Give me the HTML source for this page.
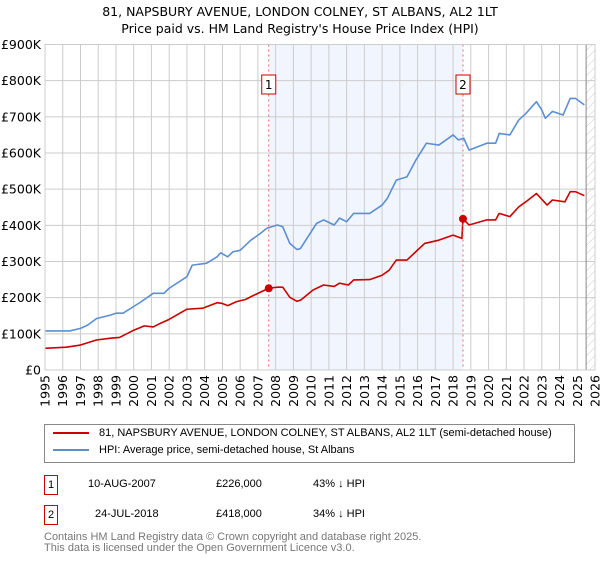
<!DOCTYPE html>
<html><head><meta charset="utf-8"><style>
body{margin:0;background:#fff;font-family:"Liberation Sans","DejaVu Sans",sans-serif;}
svg text{font-family:"DejaVu Sans","Liberation Sans",sans-serif;}
.t{position:absolute;white-space:nowrap;}
</style></head><body>
<svg id="c" width="600" height="560" xmlns="http://www.w3.org/2000/svg">
<defs><pattern id="hatch" width="6" height="6" patternUnits="userSpaceOnUse" patternTransform="rotate(45)"><line x1="0" y1="0" x2="0" y2="6" stroke="#ccc" stroke-width="1"/></pattern></defs>
<text x="300" y="16" text-anchor="middle" font-size="12.5">81, NAPSBURY AVENUE, LONDON COLNEY, ST ALBANS, AL2 1LT</text>
<text x="300" y="33" text-anchor="middle" font-size="12.5">Price paid vs. HM Land Registry's House Price Index (HPI)</text>
<g id="grid"></g><g id="marks"></g>
</svg>
<script>
const hpiYears=[1995.0,1996.4,1997.0,1997.4,1997.9,1998.7,1999.0,1999.4,2000.4,2001.1,2001.7,2002.0,2003.0,2003.3,2004.1,2004.7,2004.9,2005.3,2005.6,2006.0,2006.6,2007.1,2007.5,2008.1,2008.4,2008.8,2009.2,2009.4,2010.3,2010.7,2011.3,2011.6,2012.0,2012.4,2013.3,2014.0,2014.3,2014.8,2015.4,2015.9,2016.5,2017.2,2018.0,2018.3,2018.6,2018.9,2019.9,2020.4,2020.6,2021.2,2021.7,2022.1,2022.7,2023.0,2023.2,2023.6,2024.2,2024.6,2024.9,2025.4];
const hpiValues=[108,108,115,124,142,152,157,157,188,212,212,226,258,290,295,313,324,313,327,331,359,376,392,401,396,350,333,336,405,415,401,420,410,433,433,456,475,525,534,580,627,622,650,636,641,608,627,627,654,650,691,709,742,719,696,715,705,751,751,733];
const paidYears=[1995.0,1996.2,1997.0,1997.9,1998.7,1999.2,2000.0,2000.6,2001.1,2001.5,2002.0,2003.0,2003.9,2004.7,2005.0,2005.3,2005.8,2006.3,2006.7,2007.61,2008.1,2008.4,2008.8,2009.2,2009.4,2010.1,2010.7,2011.3,2011.6,2012.1,2012.4,2013.3,2014.0,2014.4,2014.8,2015.4,2015.9,2016.4,2017.2,2018.0,2018.5,2018.56,2018.9,2019.9,2020.4,2020.6,2021.2,2021.7,2022.1,2022.7,2023.3,2023.6,2024.3,2024.6,2024.9,2025.4];
const paidValues=[60,63,69,83,88,90,110,122,119,129,140,168,171,186,184,178,189,195,205,226,229,229,201,190,193,221,235,231,240,235,249,250,262,276,304,304,327,350,359,373,364,418,401,415,415,433,424,451,465,488,456,470,465,493,493,482];
const saleYears=[2007.61,2018.56];
const saleValues=[226,418];
const saleLabels=["1","2"];
const yTicks=[0,100,200,300,400,500,600,700,800,900];
const yTickLabels=["£0","£100K","£200K","£300K","£400K","£500K","£600K","£700K","£800K","£900K"];
const xTicks=[1995,1996,1997,1998,1999,2000,2001,2002,2003,2004,2005,2006,2007,2008,2009,2010,2011,2012,2013,2014,2015,2016,2017,2018,2019,2020,2021,2022,2023,2024,2025,2026];

const L=45,R=595,T=44.5,B=370;
const x=y=>L+(y-1995)/31*(R-L);
const yv=v=>B-v/900*(B-T);
const NS="http://www.w3.org/2000/svg";
function mk(tag,attrs,parent){const e=document.createElementNS(NS,tag);for(const k in attrs)e.setAttribute(k,attrs[k]);parent.appendChild(e);return e;}
const g=document.getElementById('grid'),m=document.getElementById('marks');
let sh=mk('rect',{x:x(saleYears[0]),y:T,width:x(saleYears[1])-x(saleYears[0]),height:B-T,fill:'#eef3fc',opacity:0.8},g);


let ht=mk('rect',{x:x(2025.5),y:T,width:R-x(2025.5),height:B-T,fill:'url(#hatch)'},g);


yTicks.forEach((t,i)=>{
  mk('line',{x1:L,x2:R,y1:yv(t),y2:yv(t),stroke:'#ccc','stroke-width':1},g);
  const tx=mk('text',{x:L-4,y:yv(t)+4.5,'text-anchor':'end','font-size':12.5},g);
  tx.textContent=yTickLabels[i];
  
  
});
xTicks.forEach(t=>{
  mk('line',{x1:x(t),x2:x(t),y1:T,y2:B,stroke:'#ccc','stroke-width':1},g);
  const tx=mk('text',{x:0,y:0,'text-anchor':'end','font-size':12.5,transform:`translate(${x(t)+4.5},${B+5}) rotate(-90)`},g);
  tx.textContent=t;
  
  
});
mk('line',{x1:x(2025.5),x2:x(2025.5),y1:T,y2:B,stroke:'#888','stroke-width':1},g);
const line=(xs,vs,c,n)=>{const p=mk('polyline',{points:xs.map((t,i)=>x(t)+','+yv(vs[i])).join(' '),fill:'none',stroke:c,'stroke-width':1.6,'stroke-linejoin':'round'},m);

};
line(hpiYears,hpiValues,'#5b8fd4','hpi-line');
line(paidYears,paidValues,'#cc0000','price-paid-line');
saleYears.forEach((t,i)=>{
  mk('line',{x1:x(t),x2:x(t),y1:T,y2:B,stroke:'#e86a6a','stroke-width':1,'stroke-dasharray':'2,3'},m);
  const c=mk('circle',{cx:x(t),cy:yv(saleValues[i]),r:4,fill:'#cc0000'},m);
  
  
  const b=mk('rect',{x:x(t)-7,y:75,width:14,height:19,fill:'#fff',stroke:'#cc0000','stroke-width':1},m);
  
  
  const tx=mk('text',{x:x(t),y:89,'text-anchor':'middle','font-size':12},m);
  tx.textContent=saleLabels[i];
  
  
});
mk('rect',{x:L,y:T,width:R-L,height:B-T,fill:'none',stroke:'#ccc'},m);
</script>
<div style="position:absolute;left:44px;top:424px;width:529px;height:37px;border:1px solid #888;font-size:11px;">
 <div class="t" style="left:8px;top:2px;"><span style="display:inline-block;width:36px;height:2px;background:#cc0000;vertical-align:middle;margin-right:10px"></span>81, NAPSBURY AVENUE, LONDON COLNEY, ST ALBANS, AL2 1LT (semi-detached house)</div>
 <div class="t" style="left:8px;top:19px;"><span style="display:inline-block;width:36px;height:2px;background:#5b8fd4;vertical-align:middle;margin-right:10px"></span>HPI: Average price, semi-detached house, St Albans</div>
</div>
<div style="font-size:11px">
  <div class="t" style="left:44px;top:475px;width:12px;height:18px;border:1px solid #cc0000;text-align:center;line-height:18px">1</div>
  <div class="t" style="left:88px;top:478px">10-AUG-2007</div>
  <div class="t" style="left:216px;top:478px">£226,000</div>
  <div class="t" style="left:313px;top:478px">43% ↓ HPI</div>
</div>
<div style="font-size:11px">
  <div class="t" style="left:44px;top:505px;width:12px;height:18px;border:1px solid #cc0000;text-align:center;line-height:18px">2</div>
  <div class="t" style="left:95px;top:508px">24-JUL-2018</div>
  <div class="t" style="left:216px;top:508px">£418,000</div>
  <div class="t" style="left:313px;top:508px">34% ↓ HPI</div>
</div>
<div class="t" style="left:44px;top:532px;font-size:11px;color:#777;line-height:11px">Contains HM Land Registry data © Crown copyright and database right 2025.<br>This data is licensed under the Open Government Licence v3.0.</div>
</body></html>
